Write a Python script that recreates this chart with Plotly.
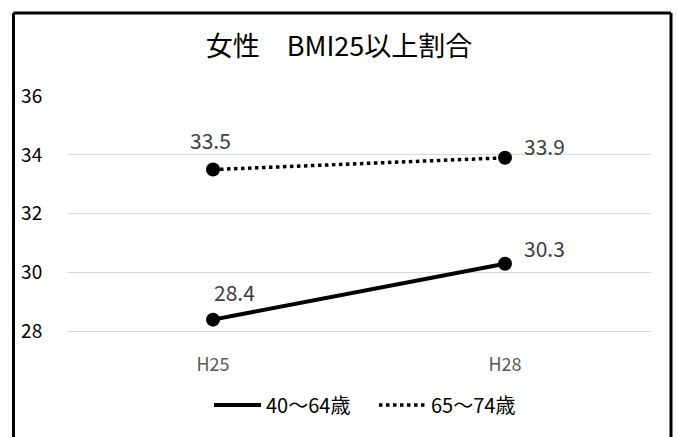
import plotly.graph_objects as go

categories = ["H25", "H28"]
series_names = ["40〜64歳", "65〜74歳"]
values_40_64 = [28.4, 30.3]
values_65_74 = [33.5, 33.9]
y_ticks = [28, 30, 32, 34, 36]
title_text = "女性　BMI25以上割合"

FONT = "Noto Sans CJK JP"
x_idx = list(range(len(categories)))

fig = go.Figure()
styles = [dict(color="black", width=4), dict(color="black", width=3.5, dash="dot")]
for name, vals, ln in zip(series_names, [values_40_64, values_65_74], styles):
    fig.add_trace(go.Scatter(
        x=x_idx, y=vals, name=name, mode="lines+markers",
        line=ln, marker=dict(color="black", size=14), showlegend=False,
    ))
# legend-only line samples
for name, ln in zip(series_names, styles):
    fig.add_trace(go.Scatter(
        x=[None], y=[None], name=name, mode="lines", line=ln, showlegend=True,
    ))

# data labels
label_style = {
    (0, 0): dict(xanchor="left", xshift=-1, yshift=28),
    (0, 1): dict(xanchor="left", xshift=17, yshift=16),
    (1, 0): dict(xanchor="center", xshift=-3, yshift=30),
    (1, 1): dict(xanchor="left", xshift=17, yshift=12),
}
for si, vals in enumerate([values_40_64, values_65_74]):
    for pi, v in enumerate(vals):
        fig.add_annotation(x=x_idx[pi], y=v, text=f"{v:.1f}", showarrow=False,
                           yanchor="middle",
                           font=dict(family=FONT, size=21, color="#404040"),
                           **label_style[(si, pi)])

# border (open at bottom)
border = dict(color="black", width=3)
fig.update_layout(
    width=678, height=437,
    margin=dict(l=67, r=27, t=96, b=85),
)
plot_h = 437 - 96 - 85
xl, xr = (13.5 - 67) / 584, (671 - 67) / 584
yt = 1 + (96 - 13) / plot_h
yb = -0.5
fig.add_shape(type="line", xref="paper", yref="paper", x0=xl, x1=xr, y0=yt, y1=yt, line=border)
fig.add_shape(type="line", xref="paper", yref="paper", x0=xl, x1=xl, y0=yt, y1=yb, line=border)
fig.add_shape(type="line", xref="paper", yref="paper", x0=xr, x1=xr, y0=yt, y1=yb, line=border)

fig.update_layout(
    paper_bgcolor="white", plot_bgcolor="white",
    font=dict(family=FONT),
    title=dict(text=title_text, x=0.5, xanchor="center", y=1 - 47/437, yanchor="middle",
               font=dict(family=FONT, size=27, color="black")),
    showlegend=True,
    legend=dict(orientation="h", x=(374 - 67) / 584, xanchor="center", y=-(405 - 352) / plot_h,
                yanchor="middle",
                font=dict(family=FONT, size=20, color="black"), itemwidth=47,
                entrywidth=103, entrywidthmode="pixels",
                traceorder="normal"),
    xaxis=dict(range=[-0.5, 1.5], tickvals=x_idx, ticktext=categories,
               showgrid=False, zeroline=False, showline=False,
               tickfont=dict(family=FONT, size=18, color="#595959")),
    yaxis=dict(range=[27.3, 36], tickvals=y_ticks, showgrid=True, gridcolor="#d9d9d9",
               gridwidth=1, zeroline=False, showline=False,
               ticks="outside", ticklen=20, tickcolor="rgba(0,0,0,0)",
               tickfont=dict(family=FONT, size=19, color="black")),
)

fig.write_html("out.html")
